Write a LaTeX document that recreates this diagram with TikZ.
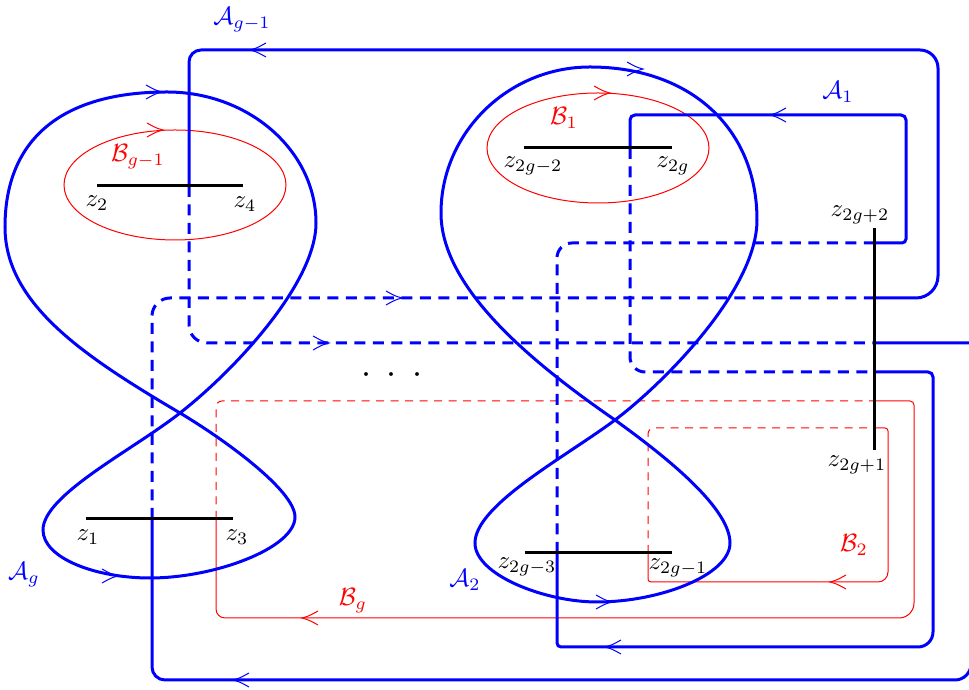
\documentclass[tikz,border=0pt]{standalone}
\begin{document}
\begin{tikzpicture}[x=0.4pt,y=-0.4pt,
  acurve/.style={blue, line width=1.2pt},
  adash/.style={acurve, dash pattern=on 4.4pt off 3pt},
  bcurve/.style={red, line width=0.4pt},
  bdash/.style={bcurve, dash pattern=on 3.2pt off 2.6pt},
  cut/.style={black, line width=1.2pt},
  alabel/.style={text=blue, inner sep=0pt},
  blabel/.style={text=red, inner sep=0pt},
  zlabel/.style={text=black, inner sep=0pt},
  tipR/.pic={\draw[line width=0.4pt] (-16,-7) .. controls (-7,-2) .. (0,0) .. controls (-7,2) .. (-16,7);},
  tipL/.pic={\draw[line width=0.4pt] (16,-7) .. controls (7,-2) .. (0,0) .. controls (7,2) .. (16,7);},
]
\useasboundingbox (0,0) rectangle (969,690);

% cut endpoints
\coordinate (z2) at (97,186);   \coordinate (z4) at (243,186);
\coordinate (z1) at (86,519);   \coordinate (z3) at (233,519);
\coordinate (z2gm2) at (524,148); \coordinate (z2g) at (672,148);
\coordinate (z2gm3) at (525,553); \coordinate (z2gm1) at (672,553);
\coordinate (z2gp2) at (874,228); \coordinate (z2gp1) at (874,450);

% red ellipses B_{g-1}, B_1
\draw[bcurve] (175,185) ellipse [x radius=44.4pt, y radius=22pt];
\draw[bcurve] (598,148) ellipse [x radius=44.4pt, y radius=22pt];

% B_g
\draw[bdash] (216,519) -- (216,407) .. controls (216,403.7) and (218.7,401) .. (222,401) -- (874,401);
\draw[bcurve] (874,401) -- (910,401) .. controls (912.2,401) and (914,402.8) .. (914,405)
  -- (914,603) .. controls (914,611.3) and (907.3,618) .. (899,618)
  -- (225,618) .. controls (220,618) and (216,614) .. (216,609) -- (216,519);
% B_2
\draw[bdash] (648,553) -- (648,434) .. controls (648,430.7) and (650.7,428) .. (654,428) -- (874,428);
\draw[bcurve] (874,428) -- (885,428) .. controls (886.7,428) and (888,429.3) .. (888,431)
  -- (888,572) .. controls (888,577.5) and (883.5,582) .. (878,582)
  -- (651,582) .. controls (649.3,582) and (648,580.7) .. (648,579) -- (648,553);

% A_{g-1}
\draw[acurve] (874,343) -- (971,343) -- (971,664) .. controls (971,672.8) and (963.8,680) .. (955,680)
  -- (165,680) .. controls (157.8,680) and (152,674.2) .. (152,667) -- (152,519);
\draw[adash] (152,519) -- (152,316) .. controls (152,306.1) and (160.1,298) .. (170,298) -- (874,298);
\draw[acurve] (874,298) -- (916,298) .. controls (928.1,298) and (938,288.1) .. (938,276)
  -- (938,68) .. controls (938,58.1) and (929.9,50) .. (920,50)
  -- (201,50) .. controls (194.4,50) and (189,55.4) .. (189,62) -- (189,186);
\draw[adash] (189,186) -- (189,325) .. controls (189,334.9) and (197.1,343) .. (207,343) -- (874,343);

% A_1
\draw[acurve] (874,243) -- (902,243) .. controls (904.2,243) and (906,241.2) .. (906,239)
  -- (906,120) .. controls (906,117.2) and (903.8,115) .. (901,115)
  -- (635,115) .. controls (632.2,115) and (630,117.2) .. (630,120) -- (630,148);
\draw[adash] (630,148) -- (630,357) .. controls (630,365.3) and (636.7,372) .. (645,372) -- (874,372);
\draw[acurve] (874,372) -- (928,372) .. controls (930.8,372) and (933,374.2) .. (933,377)
  -- (933,632) .. controls (933,640.3) and (926.3,647) .. (918,647)
  -- (561,647) .. controls (558.8,647) and (557,645.2) .. (557,643) -- (557,553);
\draw[adash] (557,553) -- (557,258) .. controls (557,249.7) and (563.7,243) .. (572,243) -- (874,243);

% A_g figure eight
\draw[acurve] (167,92) .. controls (249,92) and (316,151) .. (316,223)
  .. controls (316,283) and (235,370) .. (180,413)
  .. controls (133,450) and (43,495) .. (43,530)
  .. controls (43,558) and (95,578) .. (150,578)
  .. controls (215,578) and (295,548) .. (295,517)
  .. controls (295,490) and (222,438) .. (180,413)
  .. controls (87,358) and (5,305) .. (5,227)
  .. controls (5,139) and (62,92) .. (167,92) -- cycle;

% A_2 figure eight
\draw[acurve] (590,67) .. controls (690,67) and (757,128) .. (757,220)
  .. controls (757,290) and (663,384) .. (615,420)
  .. controls (567,456) and (475,505) .. (475,543)
  .. controls (475,575) and (545,602) .. (597,602)
  .. controls (660,602) and (730,575) .. (730,543)
  .. controls (730,505) and (655,449) .. (615,420)
  .. controls (537,366) and (441,290) .. (441,213)
  .. controls (441,133) and (508,67) .. (590,67) -- cycle;

% cuts
\draw[cut] (z2) -- (z4);
\draw[cut] (z1) -- (z3);
\draw[cut] (z2gm2) -- (z2g);
\draw[cut] (z2gm3) -- (z2gm1);
\draw[cut] (z2gp2) -- (z2gp1);

% arrow tips
\pic[blue] at (250,50) {tipL};
\pic[blue] at (402,298) {tipR};
\pic[blue] at (329,343) {tipR};
\pic[blue] at (233,680) {tipL};
\pic[blue] at (162,92) {tipR};
\pic[blue] at (118,576) {tipR};
\pic[red] at (163,130) {tipR};
\pic[red] at (610,93) {tipR};
\pic[blue] at (643,69) {tipR};
\pic[blue] at (770,115) {tipL};
\pic[blue] at (612,602) {tipR};
\pic[blue] at (605,647) {tipL};
\pic[red] at (830,582) {tipL};
\pic[red] at (302,618) {tipL};

% labels
\node[alabel] (lAgm1) at (242,20) {$\mathcal{A}_{g-1}$};
\node[alabel] (lA1) at (838,92) {$\mathcal{A}_1$};
\node[alabel] (lAg) at (24,575) {$\mathcal{A}_g$};
\node[alabel] (lA2) at (465,580) {$\mathcal{A}_2$};
\node[blabel] (lBgm1) at (138,157) {$\mathcal{B}_{g-1}$};
\node[blabel] (lB1) at (564,118) {$\mathcal{B}_1$};
\node[blabel] (lB2) at (854,545) {$\mathcal{B}_2$};
\node[blabel] (lBg) at (353,601) {$\mathcal{B}_g$};

\node[zlabel] (lz2) at (97,203) {$z_2$};
\node[zlabel] (lz4) at (245,204) {$z_4$};
\node[zlabel] (lz1) at (88,537) {$z_1$};
\node[zlabel] (lz3) at (237,537) {$z_3$};
\node[zlabel] (lz2gm2) at (533,166) {$z_{2g-2}$};
\node[zlabel] (lz2g) at (673,166) {$z_{2g}$};
\node[zlabel] (lz2gp2) at (860,215) {$z_{2g+2}$};
\node[zlabel] (lz2gp1) at (857,465) {$z_{2g+1}$};
\node[zlabel] (lz2gm3) at (527,567) {$z_{2g-3}$};
\node[zlabel] (lz2gm1) at (678,568) {$z_{2g-1}$};

\node[zlabel] (dots) at (392,376) {\Large$\cdotp\kern4pt\cdotp\kern4pt\cdotp$};
\end{tikzpicture}
\end{document}
